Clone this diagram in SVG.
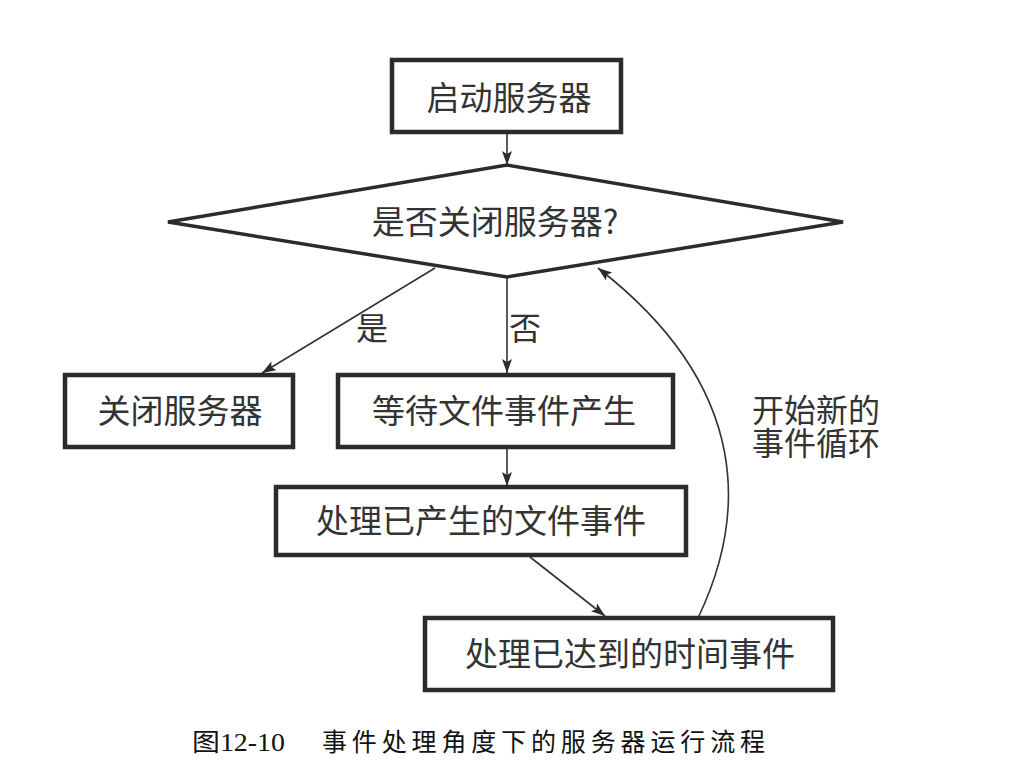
<svg xmlns="http://www.w3.org/2000/svg" width="1030" height="766" viewBox="0 0 1030 766">
<style>
.box{fill:#fff;stroke:#2b2b2b;stroke-width:4.5}
.dia{fill:#fff;stroke:#2b2b2b;stroke-width:3.5}
.t{font-family:"Noto Sans CJK SC","Noto Sans",sans-serif;font-size:33px;fill:#333;text-anchor:middle;dominant-baseline:central}
.lbl{font-family:"Noto Sans CJK SC","Noto Sans",sans-serif;font-size:32px;fill:#333}
.c{fill:none;stroke:#333;stroke-width:1.6}
.cap{font-family:"Liberation Serif","Noto Sans CJK SC",serif;font-size:25px;fill:#111}
</style>
<defs>
<marker id="ah" viewBox="0 0 14 10" refX="14" refY="5" markerWidth="14" markerHeight="10" markerUnits="userSpaceOnUse" orient="auto">
<path d="M0,0 L14,5 L0,10 L3,5 Z" fill="#2b2b2b"/>
</marker>
</defs>
<rect width="1030" height="766" fill="#fff"/>
<g id="connectors">
<line class="c" x1="507" y1="134" x2="507" y2="165" marker-end="url(#ah)"/>
<line class="c" x1="435" y1="268" x2="262" y2="373" marker-end="url(#ah)"/>
<line class="c" x1="507" y1="278" x2="507" y2="373" marker-end="url(#ah)"/>
<line class="c" x1="507" y1="449" x2="507" y2="486" marker-end="url(#ah)"/>
<line class="c" x1="530" y1="557" x2="605" y2="616" marker-end="url(#ah)"/>
<path class="c" d="M698,618 C745,520 755,390 598,268" marker-end="url(#ah)"/>
<text class="lbl" x="356" y="340">是</text>
<text class="lbl" x="509" y="340">否</text>
<text class="lbl"><tspan x="752" y="422">开始新的</tspan><tspan x="752" y="455">事件循环</tspan></text>
</g>
<g id="start">
<rect class="box" x="392" y="60" width="229" height="72"/>
<text class="t" x="509" y="96">启动服务器</text>
</g>
<g id="decision">
<polygon class="dia" points="507,165 843,222 507,277 168,222"/>
<text class="t" x="495" y="220">是否关闭服务器?</text>
</g>
<g id="close">
<rect class="box" x="65" y="375" width="228" height="72"/>
<text class="t" x="180" y="409">关闭服务器</text>
</g>
<g id="wait">
<rect class="box" x="338" y="375" width="335" height="72"/>
<text class="t" x="504" y="409">等待文件事件产生</text>
</g>
<g id="filev">
<rect class="box" x="276" y="487" width="410" height="68"/>
<text class="t" x="481" y="519">处理已产生的文件事件</text>
</g>
<g id="timev">
<rect class="box" x="425" y="618" width="408" height="72"/>
<text class="t" x="630" y="652">处理已达到的时间事件</text>
</g>
<g id="caption">
<text class="cap" x="192" y="751" textLength="93" lengthAdjust="spacingAndGlyphs">图12-10</text>
<text class="cap" x="322" y="751" textLength="443" lengthAdjust="spacing">事件处理角度下的服务器运行流程</text>
</g>
</svg>
